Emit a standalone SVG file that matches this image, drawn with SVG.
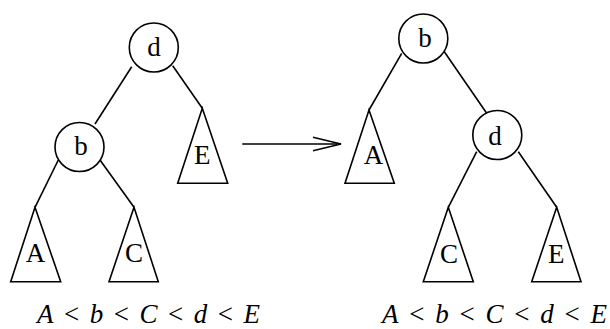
<svg xmlns="http://www.w3.org/2000/svg" width="610" height="329" viewBox="0 0 610 329">
<defs>
<marker id="arr" markerUnits="userSpaceOnUse" markerWidth="32" markerHeight="18" refX="29" refY="8" orient="auto">
<path d="M1,1.3 L29,8 L1,14.7" fill="none" stroke="#000" stroke-width="1.5"/>
</marker>
</defs>
<style>
.c{fill:#fff;stroke:#000;stroke-width:1.6}
.t{fill:#fff;stroke:#000;stroke-width:1.6;stroke-linejoin:miter}
.e{stroke:#000;stroke-width:1.6;fill:none}
.lbl{font-family:"Liberation Serif","DejaVu Serif",serif;font-size:27px;fill:#000;text-anchor:middle}
.f{font-family:"Liberation Serif","DejaVu Serif",serif;font-size:27px;fill:#000}
.i{font-style:italic}
</style>
<rect width="610" height="329" fill="#fff"/>
<g id="connectors">
<line class="e" x1="131.7" y1="66.7" x2="95" y2="124"/>
<line class="e" x1="172.7" y1="65.7" x2="202.3" y2="108.3"/>
<line class="e" x1="58.3" y1="160" x2="35" y2="207.3"/>
<line class="e" x1="100" y1="160" x2="134" y2="207.3"/>
<line class="e" x1="401.7" y1="53.3" x2="369" y2="110"/>
<line class="e" x1="444.3" y1="51.7" x2="486.7" y2="113.3"/>
<line class="e" x1="476.7" y1="151.7" x2="448.3" y2="207.3"/>
<line class="e" x1="518.3" y1="151.7" x2="556.7" y2="207.3"/>
<line class="e" x1="242.3" y1="144" x2="341" y2="144" marker-end="url(#arr)"/>
</g>
<g id="L-d"><circle class="c" cx="153.8" cy="47.5" r="24.5"/><text class="lbl" x="154" y="56">d</text></g>
<g id="L-b"><circle class="c" cx="79.5" cy="147" r="24.5"/><text class="lbl" x="81" y="155">b</text></g>
<g id="L-E"><polygon class="t" points="202.3,108.3 177.7,183.3 227.7,183.3"/><text class="lbl" x="202.3" y="164">E</text></g>
<g id="L-A"><polygon class="t" points="35,207.3 10.7,281.7 60.7,281.7"/><text class="lbl" x="35.5" y="262">A</text></g>
<g id="L-C"><polygon class="t" points="134,207.3 109,281.7 158.3,281.7"/><text class="lbl" x="134" y="262">C</text></g>
<g id="R-b"><circle class="c" cx="423.3" cy="38.5" r="24.5"/><text class="lbl" x="425" y="46.5">b</text></g>
<g id="R-A"><polygon class="t" points="369,110 345,183.3 394.3,183.3"/><text class="lbl" x="373.5" y="163.5">A</text></g>
<g id="R-d"><circle class="c" cx="497.3" cy="135" r="24.5"/><text class="lbl" x="495" y="144.5">d</text></g>
<g id="R-C"><polygon class="t" points="448.3,207.3 423.3,281.7 473.3,281.7"/><text class="lbl" x="449" y="263">C</text></g>
<g id="R-E"><polygon class="t" points="556.7,207.3 531.7,281.7 581,281.7"/><text class="lbl" x="556.3" y="263">E</text></g>
<g id="formula-left"><text class="f" x="37" y="323" textLength="223" lengthAdjust="spacing"><tspan class="i">A</tspan> &lt; <tspan class="i">b</tspan> &lt; <tspan class="i">C</tspan> &lt; <tspan class="i">d</tspan> &lt; <tspan class="i">E</tspan></text></g>
<g id="formula-right"><text class="f" x="382" y="323" textLength="225" lengthAdjust="spacing"><tspan class="i">A</tspan> &lt; <tspan class="i">b</tspan> &lt; <tspan class="i">C</tspan> &lt; <tspan class="i">d</tspan> &lt; <tspan class="i">E</tspan></text></g>
</svg>
